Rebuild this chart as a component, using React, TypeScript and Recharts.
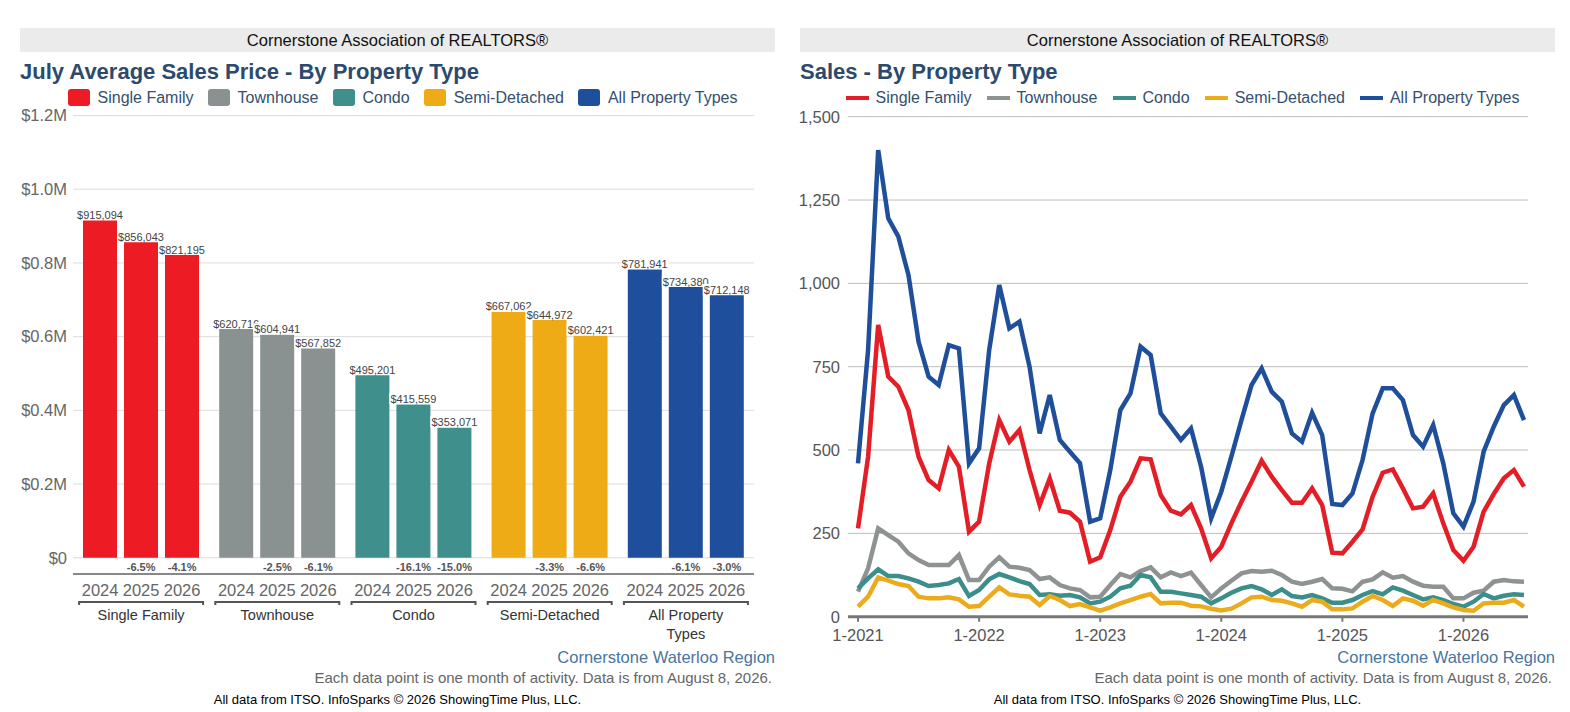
import React from 'react';
import {
  BarChart,
  Bar,
  XAxis,
  YAxis,
  CartesianGrid,
  LabelList,
  Cell,
  LineChart,
  Line,
} from 'recharts';

const FONT = '"Liberation Sans", Arial, Helvetica, sans-serif';

// shared categories / colours
const propertyTypes = ['Single Family', 'Townhouse', 'Condo', 'Semi-Detached', 'All Property Types'];
const barColors = ['#ed1c24', '#8a9191', '#3f8f8d', '#eeab16', '#1f4e9c'];
const lineColors = ['#e31e26', '#8e9292', '#3b8e8a', '#ecab1c', '#1f4e9a'];

// July average sales price
const years = ['2024', '2025', '2026'];
const july2024 = [915094, 620716, 495201, 667062, 781941];
const july2025 = [856043, 604941, 415559, 644972, 734380];
const july2026 = [821195, 567852, 353071, 602421, 712148];
const priceTicks = [0, 200000, 400000, 600000, 800000, 1000000, 1200000];

// monthly sales 1-2021 .. 7-2026
const salesSingleFamily = [
  265, 480, 875, 720, 690, 620, 480, 410, 385, 500, 450, 255,
  285, 460, 590, 525, 560, 440, 335, 415, 318, 312, 285, 165,
  178, 260, 360, 405, 475, 472, 365, 318, 307, 335, 265, 175,
  210, 280, 345, 405, 468, 420, 380, 342, 342, 385, 335, 192,
  190, 225, 262, 360, 432, 442, 385, 325, 330, 370, 280, 200,
  168, 210, 315, 368, 415, 440, 390,
];
const salesTownhouse = [
  75, 145, 265, 245, 225, 190, 170, 155, 155, 155, 185, 110,
  110, 150, 178, 150, 147, 140, 113, 118, 95, 85, 80, 58,
  60, 95, 128, 118, 137, 148, 118, 133, 122, 132, 95, 58,
  85, 108, 130, 137, 135, 138, 125, 105, 98, 105, 113, 85,
  84, 76, 105, 112, 133, 117, 122, 105, 93, 90, 90, 55,
  55, 72, 78, 105, 110, 106, 105,
];
const salesCondo = [
  85, 115, 142, 122, 122, 115, 105, 92, 95, 100, 113, 62,
  80, 112, 128, 118, 107, 98, 65, 67, 63, 65, 58, 40,
  45, 60, 85, 93, 125, 118, 75, 75, 70, 65, 60, 40,
  55, 72, 85, 92, 82, 65, 82, 62, 58, 65, 55, 42,
  42, 50, 65, 77, 67, 88, 78, 65, 52, 58, 50, 38,
  30, 45, 68, 55, 63, 67, 65,
];
const salesSemiDetached = [
  30, 60, 118, 108, 98, 92, 60, 55, 55, 58, 52, 30,
  32, 60, 88, 67, 63, 60, 35, 62, 50, 32, 38, 28,
  18, 28, 40, 50, 60, 68, 40, 42, 42, 33, 31, 24,
  19, 24, 40, 58, 60, 50, 48, 40, 30, 50, 45, 22,
  22, 25, 45, 62, 50, 32, 55, 48, 33, 50, 40, 28,
  20, 18, 40, 42, 42, 50, 30,
];
const salesAll = [
  460, 800, 1400, 1195, 1140, 1025, 825, 720, 695, 815, 805, 460,
  505, 800, 995, 865, 885, 750, 550, 665, 530, 495, 460, 285,
  295, 440, 620, 670, 810, 785, 610, 570, 530, 565, 450, 295,
  375, 480, 590, 695, 745, 675, 645, 550, 525, 612, 545, 338,
  335, 370, 470, 610, 685, 685, 650, 545, 510, 575, 460, 310,
  270, 345, 495, 570, 635, 665, 590,
];
const salesTicks = [0, 250, 500, 750, 1000, 1250, 1500];
const months = salesAll.map((_, i) => `${(i % 12) + 1}-${2021 + Math.floor(i / 12)}`);

const priceRows = propertyTypes.map((name, i) => ({
  name,
  y2024: july2024[i],
  y2025: july2025[i],
  y2026: july2026[i],
}));

const salesSeries = [
  { key: 'sf', values: salesSingleFamily },
  { key: 'th', values: salesTownhouse },
  { key: 'condo', values: salesCondo },
  { key: 'semi', values: salesSemiDetached },
  { key: 'all', values: salesAll },
];

const salesRows = months.map((month, i) => {
  const row: Record<string, string | number> = { month };
  salesSeries.forEach((s) => {
    row[s.key] = s.values[i];
  });
  return row;
});

const fmtPrice = (v: number) => (v === 0 ? '$0' : `$${(v / 1000000).toFixed(1)}M`);
const pctChange = (a: number, b: number) => `${((b / a - 1) * 100).toFixed(1)}%`;

const ValueLabel = (props: any) => {
  const { x, y, width, value } = props;
  const cx = x + width / 2;
  return (
    <g>
      <rect x={cx - 24} y={y - 11.5} width={48} height={11} fill="#fff" />
      <text x={cx} y={y - 1.5} textAnchor="middle" fontSize={11} fill="#444" fontFamily={FONT}>
        {`$${Number(value).toLocaleString('en-US')}`}
      </text>
    </g>
  );
};

const GroupTick = (props: any) => {
  const { x, y, payload } = props;
  const i = propertyTypes.indexOf(payload.value);
  const vals = [july2024[i], july2025[i], july2026[i]];
  const lines = i === 4 ? ['All Property', 'Types'] : [propertyTypes[i]];
  return (
    <g fontFamily={FONT}>
      {[1, 2].map((k) => (
        <text
          key={`p${k}`}
          x={x + (k - 1) * 41}
          y={y - 3}
          textAnchor="middle"
          fontSize={11}
          fontWeight="bold"
          fill="#555"
        >
          {pctChange(vals[k - 1], vals[k])}
        </text>
      ))}
      {years.map((yr, k) => (
        <text key={yr} x={x + (k - 1) * 41} y={y + 22} textAnchor="middle" fontSize={16.5} fill="#666">
          {yr}
        </text>
      ))}
      <path
        d={`M${x - 62},${y + 31} V${y + 28} H${x + 62} V${y + 31}`}
        stroke="#555"
        strokeWidth={2}
        fill="none"
      />
      {lines.map((l, k) => (
        <text key={l} x={x} y={y + 46 + k * 19} textAnchor="middle" fontSize={14.5} fill="#333">
          {l}
        </text>
      ))}
    </g>
  );
};

const Header = ({ left }: { left: number }) => (
  <div
    style={{
      position: 'absolute',
      left,
      top: 28,
      width: 755,
      height: 24,
      lineHeight: '25px',
      background: '#ebebeb',
      textAlign: 'center',
      fontSize: 16.5,
      color: '#111',
    }}
  >
    Cornerstone Association of REALTORS®
  </div>
);

const Title = ({ left, text }: { left: number; text: string }) => (
  <div
    style={{
      position: 'absolute',
      left,
      top: 60.5,
      lineHeight: '22px',
      fontSize: 22,
      fontWeight: 'bold',
      color: '#2c4a6b',
      whiteSpace: 'nowrap',
    }}
  >
    {text}
  </div>
);

const LegendRow = ({ left, kind }: { left: number; kind: 'bar' | 'line' }) => (
  <div
    style={{
      position: 'absolute',
      left,
      top: 88,
      width: 755,
      height: 19,
      display: 'flex',
      justifyContent: 'center',
      alignItems: 'center',
      gap: kind === 'bar' ? 14 : 15,
    }}
  >
    {propertyTypes.map((t, i) => (
      <div key={t} style={{ display: 'flex', alignItems: 'center', gap: kind === 'bar' ? 8 : 7 }}>
        {kind === 'bar' ? (
          <span style={{ display: 'block', width: 22, height: 17, background: barColors[i], borderRadius: 3 }} />
        ) : (
          <span style={{ display: 'block', width: 23, height: 4, background: lineColors[i] }} />
        )}
        <span style={{ fontSize: 16, color: '#34506f', whiteSpace: 'nowrap' }}>{t}</span>
      </div>
    ))}
  </div>
);

const Footer = ({ left }: { left: number }) => (
  <>
    <div
      style={{
        position: 'absolute',
        left,
        top: 647.5,
        width: 755,
        lineHeight: '18px',
        textAlign: 'right',
        fontSize: 16.5,
        color: '#4a74a0',
      }}
    >
      Cornerstone Waterloo Region
    </div>
    <div
      style={{
        position: 'absolute',
        left,
        top: 668.5,
        width: 752,
        lineHeight: '17px',
        textAlign: 'right',
        fontSize: 15,
        color: '#666',
      }}
    >
      Each data point is one month of activity. Data is from August 8, 2026.
    </div>
    <div
      style={{
        position: 'absolute',
        left,
        top: 691.5,
        width: 755,
        lineHeight: '15px',
        textAlign: 'center',
        fontSize: 13,
        color: '#000',
      }}
    >
      All data from ITSO. InfoSparks © 2026 ShowingTime Plus, LLC.
    </div>
  </>
);

export default function App() {
  return (
    <div
      style={{
        position: 'absolute',
        left: 0,
        top: 0,
        width: 1570,
        height: 712,
        background: '#fff',
        overflow: 'hidden',
        fontFamily: FONT,
      }}
    >
      <Header left={20} />
      <Title left={20} text="July Average Sales Price - By Property Type" />
      <LegendRow left={25} kind="bar" />

      <div style={{ position: 'absolute', left: 0, top: 0 }}>
        <BarChart
          width={790}
          height={660}
          data={priceRows}
          margin={{ top: 115.5, right: 36, bottom: 16, left: 0 }}
          barSize={34}
          barGap={7}
        >
          <CartesianGrid vertical={false} stroke="#dcdcdc" />
          <XAxis
            dataKey="name"
            height={70}
            interval={0}
            axisLine={{ stroke: '#888', strokeWidth: 2 }}
            tickLine={false}
            tickSize={0}
            tickMargin={0}
            tick={<GroupTick />}
          />
          <YAxis
            width={73}
            domain={[-44000, 1200000]}
            ticks={priceTicks}
            tickFormatter={fmtPrice}
            axisLine={false}
            tickLine={false}
            tickMargin={0}
            tick={{ fill: '#666', fontSize: 16.5 }}
          />
          {years.map((yr) => (
            <Bar key={yr} dataKey={`y${yr}`} isAnimationActive={false}>
              {priceRows.map((row, i) => (
                <Cell key={row.name} fill={barColors[i]} />
              ))}
              <LabelList dataKey={`y${yr}`} content={ValueLabel} />
            </Bar>
          ))}
        </BarChart>
      </div>
      <Footer left={20} />

      <Header left={800} />
      <Title left={800} text="Sales - By Property Type" />
      <LegendRow left={805} kind="line" />

      <div style={{ position: 'absolute', left: 780, top: 100 }}>
        <LineChart
          width={790}
          height={560}
          data={salesRows}
          margin={{ top: 16.7, right: 42, bottom: 13.3, left: 0 }}
        >
          <CartesianGrid vertical={false} stroke="#bdbdbd" />
          <XAxis
            dataKey="month"
            interval={11}
            padding={{ left: 10, right: 4 }}
            height={30}
            axisLine={{ stroke: '#777', strokeWidth: 3 }}
            tickLine={{ stroke: '#777', strokeWidth: 2 }}
            tickSize={5}
            tickMargin={8}
            tick={{ fill: '#555', fontSize: 16.5 }}
          />
          <YAxis
            width={68}
            domain={[0, 1500]}
            ticks={salesTicks}
            tickFormatter={(v: number) => v.toLocaleString('en-US')}
            axisLine={false}
            tickLine={false}
            tick={{ fill: '#555', fontSize: 16.5 }}
          />
          {salesSeries.map((s, i) => (
            <Line
              key={s.key}
              type="linear"
              dataKey={s.key}
              stroke={lineColors[i]}
              strokeWidth={4.5}
              dot={false}
              activeDot={false}
              isAnimationActive={false}
            />
          ))}
        </LineChart>
      </div>
      <Footer left={800} />
    </div>
  );
}
